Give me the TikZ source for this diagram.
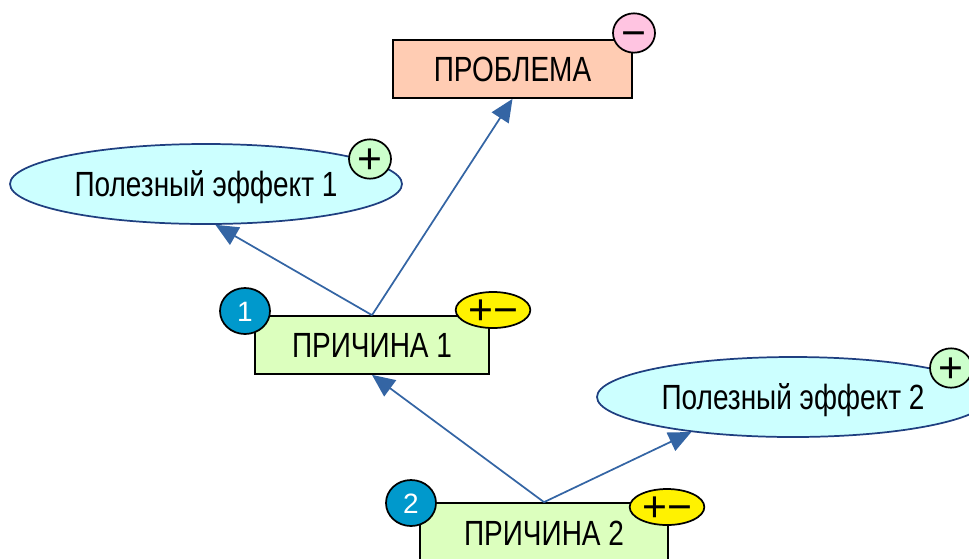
\documentclass[tikz,border=0pt]{standalone}
\usepackage{fontspec}
\setmainfont{Liberation Sans}
\newfontfamily\narrowfont[FakeStretch=0.8]{Liberation Sans}
\usetikzlibrary{arrows.meta,shapes.geometric}
\definecolor{probfill}{HTML}{FFCCB3}
\definecolor{causefill}{HTML}{DCFFBE}
\definecolor{effectfill}{HTML}{CCFFFF}
\definecolor{effectline}{HTML}{1F3F80}
\definecolor{plusfill}{HTML}{CCFFCC}
\definecolor{minusfill}{HTML}{FFC4E1}
\definecolor{numfill}{HTML}{0099CC}
\definecolor{arrowcol}{HTML}{3465A4}
\begin{document}
\begin{tikzpicture}[x=0.75pt,y=-0.75pt,
  boxnode/.style={draw=black,line width=1.3pt,rectangle,inner sep=0pt,
    text height=18.8pt,text depth=0pt,
    font=\narrowfont\fontsize{26.25pt}{30pt}\selectfont},
  effectnode/.style={draw=effectline,fill=effectfill,line width=1.3pt,ellipse,inner sep=0pt,
    minimum width=294pt,minimum height=60pt,text height=18.8pt,text depth=0pt,
    font=\narrowfont\fontsize{26.25pt}{30pt}\selectfont},
  badge/.style={draw=black,line width=1.3pt,ellipse,inner sep=0pt,
    minimum width=31.5pt,minimum height=29.5pt},
  numbadge/.style={draw=black,line width=1.3pt,ellipse,inner sep=0pt,fill=numfill,
    minimum width=37.5pt,minimum height=34.5pt,text=white,
    text height=15pt,text depth=0pt,
    font=\fontsize{21pt}{21pt}\selectfont},
  pmbadge/.style={draw=black,line width=1.3pt,ellipse,inner sep=0pt,fill=yellow,
    minimum width=56pt,minimum height=27pt},
  symfont/.style={font=\fontsize{32pt}{32pt}\selectfont,inner sep=0pt,
    text height=22.4pt,text depth=0pt},
  link/.style={draw=arrowcol,line width=1.3pt,-{Triangle[length=17pt,width=15pt]}}
]
\useasboundingbox (0,0) rectangle (969,558);
\clip (0,0) rectangle (969,558);

% main nodes
\node[boxnode,fill=probfill,minimum width=179.25pt,minimum height=43.5pt] (prob) at (512.5,69) {ПРОБЛЕМА};
\node[effectnode] (e1) at (206,184) {Полезный эффект 1};
\node[boxnode,fill=causefill,minimum width=175.5pt,minimum height=43.5pt] (p1) at (372,345) {ПРИЧИНА 1};
\node[effectnode] (e2) at (793,397) {Полезный эффект 2};
\node[boxnode,fill=causefill,minimum width=186pt,minimum height=45pt] (p2) at (544,533) {ПРИЧИНА 2};

% connectors
\draw[link] (p1.north) -- (prob.south);
\draw[link] (p1.north) -- (e1.-77);
\draw[link] (p2.north) -- (p1.south);
\draw[link] (p2.north) -- (e2.199);

% badges
\node[badge,fill=minusfill,label={[symfont]center:−}] (mb) at (634,33) {};
\node[badge,fill=plusfill,label={[symfont]center:+}] (pb1) at (370,159) {};
\node[badge,fill=plusfill,label={[symfont]center:+}] (pb2) at (951,368) {};
\node[numbadge] (n1) at (245,311) {1};
\node[numbadge] (n2) at (411,503) {2};
\node[pmbadge,label={[symfont]center:+−}] (y1) at (493,310) {};
\node[pmbadge,label={[symfont]center:+−}] (y2) at (667,507) {};
\end{tikzpicture}
\end{document}
